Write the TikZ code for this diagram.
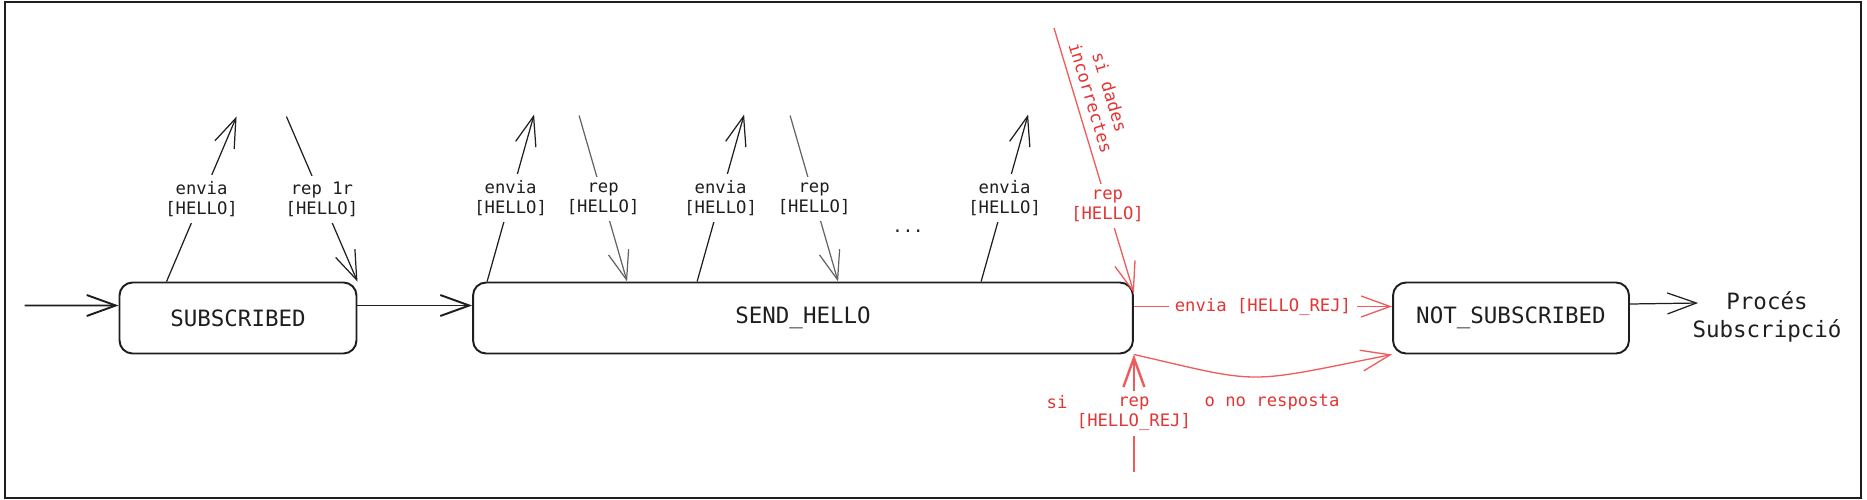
\documentclass[tikz,border=0pt]{standalone}
\usepackage{fontspec}
\setmainfont{DejaVu Sans Mono}
\usetikzlibrary{arrows.meta, positioning, calc}
\definecolor{stateink}{RGB}{30,30,30}
\definecolor{msggray}{RGB}{100,100,100}
\definecolor{rejred}{RGB}{228,52,52}
\definecolor{rejline}{RGB}{238,92,92}

\begin{document}
\begin{tikzpicture}[
  x=0.02cm, y=-0.02cm,
  >={Straight Barb[length=0.58cm, width=0.42cm]},
  state/.style={rectangle, rounded corners=0.26cm, draw=stateink, line width=1.1pt, minimum height=1.42cm, text=stateink, font=\fontsize{12.8}{15}\selectfont},
  flow/.style={->, draw=stateink, line width=1.1pt},
  msg/.style={->, draw=stateink, line width=0.7pt},
  lbl/.style={fill=white, align=center, inner sep=3.5pt, text=stateink, font=\fontsize{9.8}{11.3}\selectfont},
  rej/.style={->, draw=rejline, line width=0.75pt},
  rejlbl/.style={lbl, text=rejred}
]
  \useasboundingbox (0,0) rectangle (1867,500);
  \draw[stateink, line width=1.1pt] (5,2) rectangle (1861,498);

  \node[state, minimum width=4.74cm] (sub) at (238,318) {SUBSCRIBED};
  \node[state, minimum width=13.2cm] (sh) at (803,318) {SEND\_HELLO};
  \node[state, minimum width=4.72cm] (ns) at (1511,318) {NOT\_SUBSCRIBED};
  \node[align=center, inner sep=0pt, text=stateink, font=\fontsize{12.8}{16}\selectfont] (proc) at (1767,317) {Procés\\Subscripció};
  \coordinate (start) at ($(sub.west)+(-94,-12.5)$);

  \draw[flow] (start) -- ([yshift=0.25cm]sub.west);
  \draw[flow] ([yshift=0.25cm]sub.east) -- ([yshift=0.25cm]sh.west);
  \draw[msg] ([yshift=0.28cm]ns.east) -- ([yshift=0.28cm, xshift=0.12cm]proc.west);

  \coordinate (s1) at ($(sub.north west)+(118,-165)$);
  \coordinate (s2) at ($(sub.north east)+(-71,-165)$);
  \draw[msg] ($(sub.north west)+(48,0)$) -- node[lbl] {envia\\{}[HELLO]} (s1);
  \draw[msg] (s2) -- node[lbl] {rep 1r\\{}[HELLO]} (sub.north east);

  \foreach \dx/\nm in {15/a, 225/b, 509/c} {
    \coordinate (up\nm) at ($(sh.north west)+(\dx+47,-167)$);
    \draw[msg] ($(sh.north west)+(\dx,0)$) -- node[lbl] {envia\\{}[HELLO]} (up\nm);
  }
  \foreach \dx/\nm in {155/a, 366/b} {
    \coordinate (rep\nm) at ($(sh.north west)+(\dx-48,-166)$);
    \draw[msg, draw=msggray] (rep\nm) -- node[lbl] {rep\\{}[HELLO]} ($(sh.north west)+(\dx,0)$);
  }
  \node[lbl, fill=none] (dots) at (908,231) {...};

  \coordinate (bad) at (1054,28);
  \draw[rej] (bad) -- node[pos=0.28, sloped, above=3.5pt, align=center, inner sep=1pt, text=rejred, font=\fontsize{9.8}{11.3}\selectfont] {si dades\\incorrectes} node[rejlbl, pos=0.67] {rep\\{}[HELLO]} ([yshift=0.5cm]sh.east);
  \draw[rej] ([yshift=0.23cm]sh.east) -- node[rejlbl] {envia [HELLO\_REJ]} ([yshift=0.23cm]ns.west);
  \draw[rej] (sh.south east) .. controls +(130,30) and +(-150,30) .. (ns.south west);

  \coordinate (rejsrc) at ($(sh.south east)+(0,118)$);
  \draw[rej, line width=1.4pt] (rejsrc) -- node[rejlbl] {rep\\{}[HELLO\_REJ]} (sh.south east);
  \node[rejlbl, fill=none] (si) at (1057,402) {si};
  \node[rejlbl, fill=none] (nores) at (1272,402) {o no resposta};
\end{tikzpicture}
\end{document}
